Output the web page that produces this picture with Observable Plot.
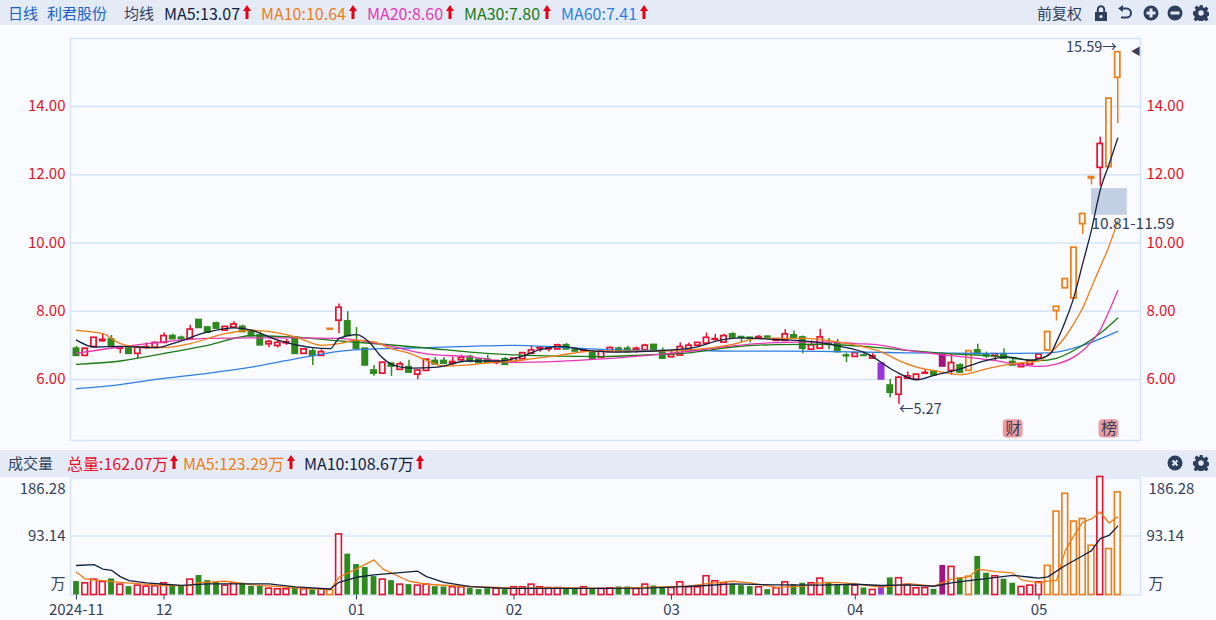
<!DOCTYPE html>
<html><head><meta charset="utf-8">
<script src="https://cdn.jsdelivr.net/npm/d3@7"></script>
<script src="https://cdn.jsdelivr.net/npm/@observablehq/plot@0.6"></script>
<style>
html,body{margin:0;padding:0;background:#f9fbff;width:1216px;height:620px;overflow:hidden;font-family:"Noto Sans CJK SC","Liberation Sans",sans-serif;}
.band{position:absolute;left:0;width:1216px;background:#e4ebf7;}
.t{position:absolute;font-size:15px;line-height:20px;white-space:nowrap;}
.n{font-size:16px;}
.up{position:absolute;width:8px;height:14px;}
.ic{position:absolute;width:16px;height:16px;}
#main,#vol{position:absolute;left:0;}
#main{top:25px;}#vol{top:470px;}
svg text{font-family:"Noto Sans CJK SC","Liberation Sans",sans-serif;}
</style></head><body>
<div class="band" style="top:0;height:25px"></div>
<div class="band" style="top:450px;height:27px"></div>
<div id="main"></div><div id="vol"></div>
<div id="hdr"></div>
<script>
const opens=[6.90,6.69,6.95,7.12,7.17,6.90,6.90,6.75,6.92,6.93,7.07,7.27,7.22,7.17,7.74,7.52,7.64,7.43,7.52,7.54,7.42,7.29,7.03,6.98,7.06,7.23,6.75,6.82,6.69,7.46,7.72,7.70,7.10,6.90,6.26,6.17,6.46,6.28,6.36,6.14,6.25,6.54,6.54,6.46,6.56,6.66,6.58,6.58,6.48,6.59,6.49,6.59,6.75,6.89,6.88,6.88,7.00,6.85,6.83,6.77,6.64,6.80,6.90,6.90,6.85,6.85,7.01,6.83,6.65,6.70,6.87,6.99,7.05,7.16,7.08,7.32,7.24,7.22,7.19,7.25,7.13,7.13,7.29,7.23,6.87,6.90,7.05,7.05,6.70,6.66,6.70,6.61,6.46,5.82,5.55,6.02,5.99,6.17,6.23,6.74,6.25,6.41,6.25,6.85,6.71,6.68,6.74,6.51,6.36,6.43,6.61,6.85,8.00,8.67,8.37,10.55,11.89,12.20,12.22,14.84];
const closes=[6.69,6.90,7.22,7.16,6.97,6.93,6.75,6.93,6.95,7.07,7.27,7.18,7.18,7.46,7.51,7.37,7.49,7.54,7.61,7.39,7.27,7.00,7.10,7.07,7.09,6.75,6.88,6.69,6.80,7.48,8.10,7.27,6.90,6.41,6.17,6.49,6.38,6.44,6.20,6.26,6.58,6.44,6.46,6.51,6.63,6.54,6.48,6.48,6.54,6.43,6.61,6.77,6.85,6.93,6.93,7.00,6.88,6.82,6.85,6.60,6.82,6.92,6.80,6.80,6.90,6.99,6.83,6.61,6.73,6.95,6.99,7.07,7.22,7.18,7.27,7.23,7.22,7.20,7.24,7.23,7.18,7.32,7.20,6.90,7.00,7.23,7.03,6.80,6.68,6.77,6.69,6.68,6.00,5.61,6.05,6.09,6.14,6.19,6.12,6.38,6.48,6.20,6.83,6.74,6.68,6.74,6.61,6.41,6.44,6.54,6.73,7.39,8.13,8.94,9.86,10.85,11.93,12.90,14.23,15.59];
const highs=[6.97,6.90,7.22,7.34,7.29,6.95,6.95,6.97,7.07,7.10,7.36,7.32,7.27,7.59,7.74,7.55,7.68,7.54,7.69,7.59,7.42,7.39,7.15,7.15,7.17,7.23,6.88,6.90,6.87,7.48,8.21,7.98,7.52,6.90,6.41,6.49,6.46,6.51,6.56,6.28,6.58,6.64,6.64,6.64,6.71,6.71,6.60,6.71,6.54,6.64,6.61,6.77,6.97,6.93,6.93,7.03,7.05,6.90,6.87,6.83,6.82,6.95,6.95,6.97,6.95,7.03,7.01,6.92,6.84,7.07,7.07,7.07,7.36,7.32,7.32,7.37,7.24,7.22,7.29,7.27,7.18,7.46,7.42,7.27,7.13,7.47,7.20,7.17,6.77,6.77,6.80,6.75,6.46,6.00,6.09,6.22,6.14,6.29,6.27,6.74,6.75,6.46,6.83,7.03,6.80,6.76,6.90,6.61,6.47,6.54,6.73,7.39,8.13,8.94,9.86,10.85,11.93,13.10,14.23,15.59];
const lows=[6.69,6.69,6.95,7.10,6.97,6.75,6.75,6.61,6.89,6.93,7.07,7.18,7.15,7.17,7.51,7.37,7.49,7.43,7.52,7.39,7.27,7.00,6.93,6.92,7.00,6.75,6.75,6.41,6.69,7.46,7.34,7.27,6.90,6.41,6.09,6.17,6.09,6.28,6.20,5.99,6.25,6.44,6.44,6.41,6.51,6.48,6.48,6.48,6.43,6.43,6.49,6.59,6.75,6.80,6.80,6.88,6.88,6.80,6.81,6.60,6.64,6.80,6.80,6.80,6.77,6.85,6.83,6.61,6.65,6.70,6.87,6.99,7.05,7.13,7.08,7.23,7.07,7.07,7.19,7.20,7.13,7.13,7.20,6.75,6.87,6.90,6.87,6.80,6.49,6.66,6.69,6.61,6.00,5.46,5.27,6.02,5.99,6.17,6.12,6.38,6.12,6.20,6.25,6.74,6.61,6.54,6.61,6.41,6.36,6.43,6.61,6.85,7.71,8.67,8.37,10.25,11.70,11.66,12.22,13.49];
const kinds="grrrgrgrrr"+"rggrgggrrg"+"ggrrrgrgro"+"rggggrgrgr"+"rggrrgggrg"+"rrrrrrggrg"+"rrggrrggrr"+"rrrrrgggrg"+"rrggrrgggr"+"grpgrrrrgm"+"rgoggrggrr"+"rooooooroo";
const volumes=[21.2,18.5,24.3,20.6,25.4,16.4,13.2,14.8,13.2,13.8,18.5,14.3,13.8,24.3,30.7,22.7,21.2,14.8,18.5,18.5,13.8,13.8,10,9,9,11.1,9,8,8.5,8,95.7,64.5,48.1,43.4,29,24.3,22.7,16.4,16.4,14.8,16.4,13.2,12.7,12.2,12.2,10.6,8.5,10,10,8.5,12.2,12.2,16.4,12.2,11,11,9.5,9.5,12.2,9.5,9.5,10.6,12.7,12.7,9.5,16.4,14.3,11,11,20,12.2,12.2,29.6,21.7,18.5,16.4,14.8,13.2,12.2,8.5,10.6,20,16.4,18.5,18.5,25.9,20,14.8,16.4,14.8,11,8,14.8,27,26.5,15.9,10.6,11,9,46.6,44.4,27,29,60.8,34.4,29.6,24.9,18.5,12.7,14.8,20.1,46,131.7,159.8,115.9,120,77.8,186.28,72.5,162.07];
const ma5=[[0,7.15],[2,6.95],[5,6.97],[9,6.93],[11,7.05],[15,7.39],[18,7.51],[20,7.44],[23,7.15],[27,6.93],[29,6.9],[30,7.2],[32,7.31],[33.6,7.05],[34.7,6.7],[36.3,6.41],[38.2,6.33],[41.2,6.36],[44.7,6.54],[48.5,6.54],[50.7,6.66],[53,6.87],[55.3,6.97],[58.4,6.85],[61.4,6.8],[66,6.83],[70.5,6.93],[73.6,7.15],[75.9,7.22],[80,7.17],[83,7.13],[87.3,6.97],[90.4,6.75],[93.4,6.26],[96,5.99],[98,6.12],[101,6.31],[103.3,6.51],[106.4,6.66],[109,6.56],[110,6.6],[111.3,6.75],[112,7.1],[113,7.7],[114,8.42],[115,9.4],[116,10.38],[117,11.55],[118,12.3],[119,13.07]];
const ma10=[[0,7.44],[3,7.34],[5,7.05],[7,6.95],[10,6.93],[13,7.05],[17,7.34],[20,7.44],[25,7.25],[28,7.0],[30,7.05],[32,7.15],[34,7.1],[36,6.9],[38,6.77],[40,6.56],[42,6.39],[44,6.41],[48,6.51],[50,6.54],[52,6.6],[55,6.7],[59,6.83],[63,6.83],[67,6.83],[70.5,6.87],[75,7.03],[78,7.2],[83,7.2],[87,7.1],[90,6.95],[92,6.8],[94,6.55],[96,6.36],[98,6.26],[101,6.14],[104,6.31],[107,6.46],[110,6.54],[111,6.72],[112,6.95],[113,7.25],[114,7.64],[115,8.1],[116,8.7],[117,9.3],[118,9.9],[119,10.64]];
const ma20=[[0,6.77],[5,6.95],[10,7.1],[15,7.2],[20,7.22],[25,7.22],[30,7.2],[35,7.02],[40,6.75],[45,6.66],[50,6.5],[55,6.53],[60,6.6],[65,6.7],[70,6.82],[75,6.98],[80,7.08],[85,7.1],[89,7.05],[92,7.0],[95,6.85],[100,6.7],[105,6.55],[108,6.42],[110,6.38],[112,6.45],[114,6.66],[115,6.85],[116,7.1],[117,7.45],[118,8.0],[119,8.6]];
const ma30=[[0,6.44],[5,6.54],[10,6.76],[15,7.0],[20,7.28],[25,7.24],[30,7.13],[35,7.03],[40,6.92],[45,6.8],[50,6.72],[55,6.68],[60,6.67],[65,6.72],[70,6.78],[75,6.95],[80,7.02],[85,7.03],[90,6.97],[95,6.85],[100,6.75],[105,6.68],[110,6.55],[112,6.62],[115,7.0],[117,7.35],[119,7.8]];
const ma60=[[0,5.73],[5,5.85],[10,6.03],[15,6.18],[20,6.36],[25,6.6],[30,6.82],[35,6.9],[40,6.93],[45,6.97],[50,7.0],[55,6.95],[60,6.88],[65,6.85],[70,6.85],[75,6.83],[80,6.83],[85,6.82],[90,6.8],[95,6.78],[100,6.77],[105,6.76],[110,6.77],[112,6.8],[115,7.0],[119,7.41]];
const volMa5=[[0,36],[1,25.4],[2,23.8],[5,20],[10,14.8],[13,14.8],[14,19.6],[17,21.7],[20,16.4],[25,11.1],[29,8],[30,28],[32,41.3],[34,55.5],[35,41.3],[38,21.7],[40,17],[44,13.8],[50,11],[55,11.5],[60,10.5],[65,12],[70,14],[72,18],[75,21.7],[77,19],[80,12],[83,14],[85,19],[87,20],[89,17.5],[92,12],[95,18],[98,14],[100,25],[102,29],[103,40.7],[105,37],[107,35],[108,24],[110,19],[111,22],[112,23],[113,70],[114,94],[115,115],[116,120],[117,131],[118,113.7],[119,123.29]];
const volMa10=[[0,46.6],[2,48],[3,41],[4,39],[5,29],[6,22.7],[8,19],[10,17],[12,15.3],[15,17.5],[22,17.5],[25,12.7],[29,9.5],[30,20],[32,28],[34,31.7],[39,37.6],[40,29],[42,20],[45,13.2],[49,10.6],[55,10.5],[60,10.5],[65,11],[68,12.5],[72,15],[75,17.5],[80,16],[85,15.5],[89,17],[92,15],[95,16],[98,13.8],[100,19],[102,22.7],[104,26],[107,31],[109,28],[110,26.5],[111,28.6],[113,46.6],[115,62],[116,70],[117,89],[118,94],[119,108.67]];
const monthLabels=["2024-11","12","01","02","03","04","05"];
const monthIndex=[0,10,32,50,68,89,110];
const priceTicks=[6,8,10,12,14];
const pal={g:"#2e8a1e",r:"#e8102a",o:"#f07c14",p:"#9a35d8",m:"#a3147f"};
const bg="#f9fbff",grid="#d6e4f7",ink="#33415c";
const pts=a=>a.map(([i,v])=>({i,v}));
const candles=opens.map((o,i)=>({i,o,c:closes[i],h:highs[i],l:lows[i],k:kinds[i],v:volumes[i]}));
const hollow=k=>k==="r"||k==="o";
const xs={domain:[-0.686,121.6]};
const common={width:1216,style:{background:"transparent",overflow:"visible",fontSize:"15px"},x:xs};
const line=(a,c)=>Plot.line(pts(a),{x:"i",y:"v",stroke:c,strokeWidth:1.3,curve:"monotone-x"});
const main=Plot.plot({...common,height:425,marginLeft:70,marginRight:76,marginTop:13,marginBottom:10,
 y:{domain:[4.21,15.99]},
 marks:[
  Plot.ruleY(priceTicks,{stroke:grid,strokeWidth:1.5}),
  Plot.frame({stroke:grid,strokeWidth:1.5}),
  Plot.axisY(priceTicks,{anchor:"left",label:null,tickSize:0,tickPadding:5,tickFormat:d3.format(".2f"),fill:"#e8101f",fontSize:15}),
  Plot.axisY(priceTicks,{anchor:"right",label:null,tickSize:0,tickPadding:6,tickFormat:d3.format(".2f"),fill:"#e8101f",fontSize:15}),
  Plot.axisX({ticks:[],label:null}),
  Plot.rect([{a:116,b:120.1,l:10.81,h:11.59}],{x1:"a",x2:"b",y1:"l",y2:"h",fill:"#c3d0e4"}),
  Plot.ruleX(candles,{x:"i",y1:"l",y2:"h",stroke:d=>pal[d.k],strokeWidth:1.5}),
  Plot.rect(candles,{x1:d=>d.i-0.3,x2:d=>d.i+0.3,y1:"o",y2:"c",fill:d=>hollow(d.k)?bg:pal[d.k],stroke:d=>pal[d.k],strokeWidth:1.7}),
  line(ma60,"#2f7fe3"),line(ma30,"#1a7a14"),line(ma20,"#e835b5"),line(ma10,"#f07c14"),line(ma5,"#12203f"),
  Plot.text(["15.59→"],{x:()=>119,y:()=>15.59,textAnchor:"end",dx:-1,dy:-5,fill:ink,fontSize:14.5}),
  Plot.text(["←5.27"],{x:()=>94,y:()=>5.27,textAnchor:"start",dy:5,fill:ink,fontSize:14.5}),
  Plot.text(["10.81-11.59"],{x:()=>116,y:()=>10.81,textAnchor:"start",dy:9,fill:ink,fontSize:15.5}),
  Plot.text(["◀"],{x:()=>121.05,y:()=>15.59,fill:"#33415c",fontSize:10,textAnchor:"middle"}),
  Plot.rect([{i:107.05},{i:118}],{x1:d=>d.i-1.14,x2:d=>d.i+1.14,y1:()=>4.28,y2:()=>4.82,fill:"#ee9ca0",rx:4}),
  Plot.text([{i:107.05,t:"财"},{i:118,t:"榜"}],{x:"i",y:()=>4.55,text:"t",fill:"#33415c",fontSize:16}),
 ]});
document.getElementById("main").append(main);
const vol=Plot.plot({...common,height:150,marginLeft:70,marginRight:76,marginTop:7.5,marginBottom:25.5,
 y:{domain:[0,184.7]},
 marks:[
  Plot.ruleY([93.14],{stroke:grid,strokeWidth:1.5}),
  Plot.frame({stroke:grid,strokeWidth:1.5}),
  Plot.axisY([93.14],{anchor:"left",label:null,tickSize:0,tickPadding:5,tickFormat:d3.format(".2f"),fill:ink,fontSize:15}),
  Plot.axisY([93.14],{anchor:"right",label:null,tickSize:0,tickPadding:6,tickFormat:d3.format(".2f"),fill:ink,fontSize:15}),
  ...[{x:-0.686,a:"end",dx:-5},{x:121.6,a:"start",dx:8}].flatMap(s=>[
   Plot.text(["186.28"],{x:()=>s.x,y:()=>186.28,textAnchor:s.a,dx:s.dx,dy:12,fill:ink,fontSize:15}),
   Plot.text(["万"],{x:()=>s.x,y:()=>0,textAnchor:s.a,dx:s.dx,dy:-11,fill:ink,fontSize:15})]),
  Plot.axisX(monthIndex,{anchor:"bottom",label:null,tickSize:5,tickPadding:4,stroke:ink,fill:ink,fontSize:15,tickFormat:d=>monthLabels[monthIndex.indexOf(d)]}),
  Plot.rect(candles,{x1:d=>d.i-0.33,x2:d=>d.i+0.33,y1:()=>0,y2:"v",fill:d=>hollow(d.k)?bg:pal[d.k],stroke:d=>pal[d.k],strokeWidth:d=>hollow(d.k)?1.6:0}),
  Plot.line(pts(volMa5),{x:"i",y:"v",stroke:"#f07c14",strokeWidth:1.3}),
  Plot.line(pts(volMa10),{x:"i",y:"v",stroke:"#12203f",strokeWidth:1.3}),
 ]});
document.getElementById("vol").append(vol);
const hdr=document.getElementById("hdr");
const arrow=(x,y)=>`<svg class="up" style="left:${x}px;top:${y}px" viewBox="0 0 8 14"><path d="M4 0L8 6H5.5V14H2.5V6H0Z" fill="#e60012"/></svg>`;
const txt=(x,y,s,c,cl="")=>`<div class="t ${cl}" style="left:${x}px;top:${y}px;color:${c}">${s}</div>`;
const ic=(x,y,inner)=>`<svg class="ic" style="left:${x}px;top:${y}px" viewBox="0 0 16 16">${inner}</svg>`;
const d="#2e3f5e";
const plus=`<circle cx="8" cy="8" r="7.5" fill="${d}"/><path d="M3.5 6.5h9v3h-9zM6.5 3.5h3v9h-3z" fill="#e4ebf7"/>`;
const minus=`<circle cx="8" cy="8" r="7.5" fill="${d}"/><path d="M3.5 6.5h9v3h-9z" fill="#e4ebf7"/>`;
const cross=`<circle cx="8" cy="8" r="7.5" fill="${d}"/><path d="M4.8 6.2L6.2 4.8 8 6.6 9.8 4.8 11.2 6.2 9.4 8 11.2 9.8 9.8 11.2 8 9.4 6.2 11.2 4.8 9.8 6.6 8Z" fill="#e4ebf7"/>`;
const gear=`<path fill="${d}" fill-rule="evenodd" d="M6.5 0h3l.4 2.3 1.5.6 1.9-1.3 2.1 2.1-1.3 1.9.6 1.5 2.3.4v3l-2.3.4-.6 1.5 1.3 1.9-2.1 2.1-1.9-1.3-1.5.6-.4 2.3h-3l-.4-2.3-1.5-.6-1.9 1.3-2.1-2.1 1.3-1.9-.6-1.5L-.1 9.5v-3l2.3-.4.6-1.5L1.5 2.7 3.6.6l1.9 1.3 1.5-.6zM8 5.3a2.7 2.7 0 100 5.4 2.7 2.7 0 000-5.4z"/>`;
const lock=`<path fill="${d}" d="M2 7h12v9H2z"/><path fill="none" stroke="${d}" stroke-width="2" d="M4.8 7V4.5a3.2 3.2 0 016.4 0V7"/><circle cx="8" cy="11.5" r="1.6" fill="#e4ebf7"/>`;
const undo=`<path fill="none" stroke="${d}" stroke-width="2" d="M3 3.5h6.5a4.3 4.3 0 010 9H4"/><path fill="${d}" d="M6 0v7L1 3.5z"/>`;
hdr.innerHTML=
 txt(8,3,"日线","#1a62c4")+txt(47,3,"利君股份","#1a62c4")+txt(124,3,"均线",d)+
 txt(164,3,"MA5:13.07","#12203f","n")+arrow(243,5)+
 txt(261,3,"MA10:10.64","#f07c14","n")+arrow(349,5)+
 txt(367,3,"MA20:8.60","#e835b5","n")+arrow(446,5)+
 txt(464,3,"MA30:7.80","#1a7a14","n")+arrow(543,5)+
 txt(561,3,"MA60:7.41","#2f7fe3","n")+arrow(640,5)+
 txt(1037,3,"前复权",d)+ic(1093,5,lock)+ic(1117,5,undo)+ic(1143,5,plus)+ic(1167,5,minus)+ic(1193,5,gear)+
 txt(8,453,"成交量",d)+txt(67,453,"总量:162.07万","#e8102a","n")+arrow(170,455)+
 txt(183,453,"MA5:123.29万","#f07c14","n")+arrow(287,455)+
 txt(304,453,"MA10:108.67万","#12203f","n")+arrow(416,455)+
 ic(1167,455,cross)+ic(1193,455,gear);
</script></body></html>
